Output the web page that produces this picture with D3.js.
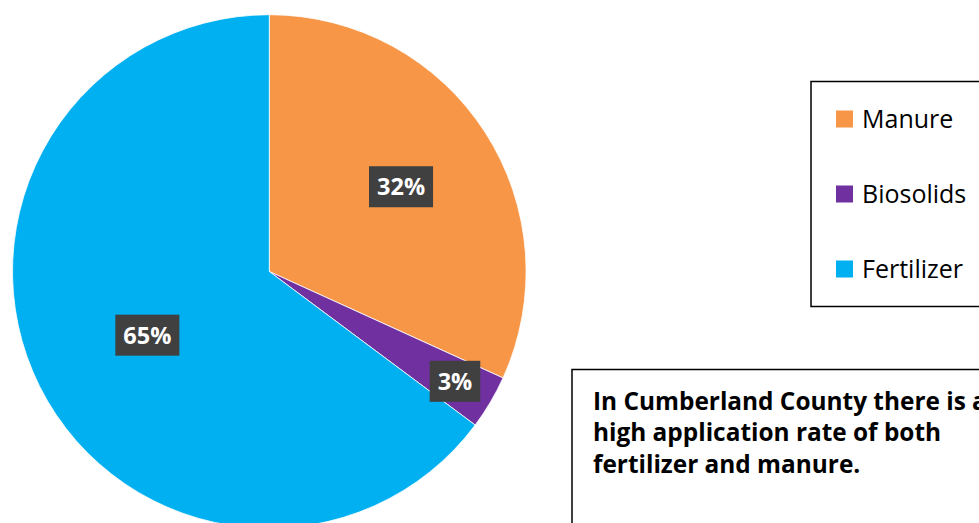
<!DOCTYPE html>
<html>
<head>
<meta charset="utf-8">
<script src="https://cdn.jsdelivr.net/npm/d3@7"></script>
<style>
  body { margin: 0; background: #fff; overflow: hidden; }
  svg { display: block; }
</style>
</head>
<body>
<div id="chart"></div>
<script>
// slice data (percent of total application)
var categories = ["Manure", "Biosolids", "Fertilizer"];
var values = [31.8, 3.4, 64.8];
var colors = ["#f79646", "#7030a0", "#00b0f0"];
var noteLines = ["In Cumberland County there is a", "high application rate of both", "fertilizer and manure."];

var svgWidth = 979, svgHeight = 523;
var cx = 269.3, cy = 271.5, radius = 256.8;
// how far out each label sits (fraction of radius), like excel's best fit
var labelPos = [0.61, 0.84, 0.54];

var svg = d3.select("#chart").append("svg")
    .attr("width", svgWidth)
    .attr("height", svgHeight);

var pie = d3.pie().sort(null).value(function(d){ return d.value; });
var arc = d3.arc().innerRadius(0).outerRadius(radius);

var pieData = pie(categories.map(function(c, i){ return {name: c, value: values[i], color: colors[i]}; }));

var pieG = svg.append("g")
    .attr("transform", "translate(" + cx + "," + cy + ")");

pieG.selectAll("path.slice")
    .data(pieData)
    .enter().append("path")
    .attr("class", "slice")
    .attr("d", arc)
    .attr("fill", function(d){ return d.data.color; })
    .attr("stroke", "#fff")
    .attr("stroke-width", 0.8);

// data labels: dark box with white bold text
var labels = pieG.selectAll("g.lbl")
    .data(pieData)
    .enter().append("g")
    .attr("class", "lbl")
    .attr("transform", function(d, i){
        var r = radius * labelPos[i];
        var c = d3.arc().innerRadius(r).outerRadius(r).centroid(d);
        return "translate(" + (c[0] + (i == 2 ? 2 : 0)) + "," + (c[1] + (i == 2 ? 1.5 : 0)) + ")";
    });

labels.append("rect").attr("fill", "#404040");
labels.append("text")
    .attr("text-anchor", "middle")
    .attr("dy", "0.36em")
    .attr("fill", "#fff")
    .style("font-family", "'Open Sans', sans-serif")
    .style("font-weight", "bold")
    .style("font-size", "23.5px")
    .text(function(d){ return Math.round(d.data.value) + "%"; });

labels.each(function(){
    var g = d3.select(this);
    var bb = g.select("text").node().getBBox();
    g.select("rect")
        .attr("x", -bb.width / 2 - 8)
        .attr("y", -20.5)
        .attr("width", bb.width + 16)
        .attr("height", 41);
});

// legend
var legend = svg.append("g").attr("class", "legend");
legend.append("rect")
    .attr("x", 811).attr("y", 81.5)
    .attr("width", 200).attr("height", 225)
    .attr("fill", "#fff")
    .attr("stroke", "#000")
    .attr("stroke-width", 1.5);

var legendScale = d3.scalePoint().domain(categories).range([127.5, 277.5]);

var items = legend.selectAll("g.item")
    .data(categories)
    .enter().append("g")
    .attr("class", "item")
    .attr("transform", function(d){ return "translate(836," + legendScale(d) + ")"; });

items.append("rect")
    .attr("x", 0).attr("y", -17)
    .attr("width", 17).attr("height", 17)
    .attr("fill", function(d, i){ return colors[i]; });

items.append("text")
    .attr("x", 26).attr("y", 0)
    .style("font-family", "'Open Sans', sans-serif")
    .style("font-size", "25px")
    .attr("fill", "#000")
    .text(function(d){ return d; });

// note box (runs off the right edge, same as the original)
var note = svg.append("g").attr("class", "note");
note.append("rect")
    .attr("x", 572).attr("y", 369.5)
    .attr("width", 450).attr("height", 200)
    .attr("fill", "#fff")
    .attr("stroke", "#000")
    .attr("stroke-width", 1.5);

note.selectAll("text")
    .data(noteLines)
    .enter().append("text")
    .attr("x", 593)
    .attr("y", function(d, i){ return 409.5 + i * 31.8; })
    .style("font-family", "'Open Sans', sans-serif")
    .style("font-weight", "bold")
    .style("font-size", "24.4px")
    .attr("fill", "#000")
    .text(function(d){ return d; });
</script>
</body>
</html>
